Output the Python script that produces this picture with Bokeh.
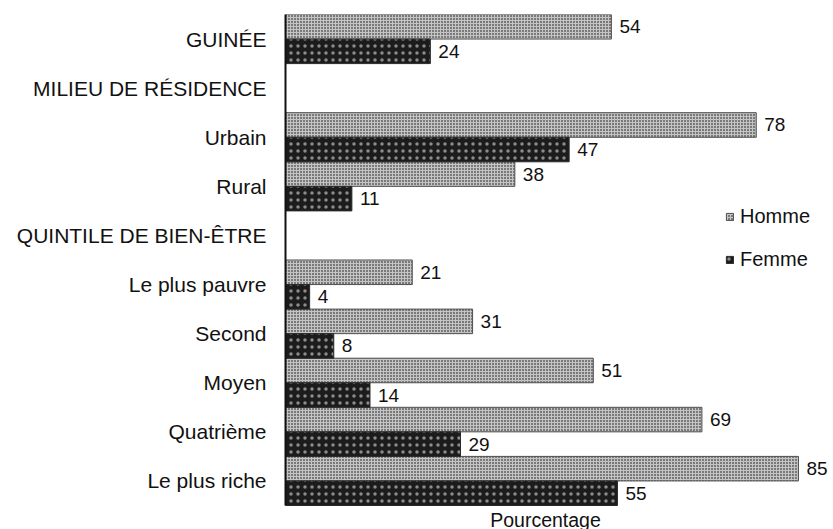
from bokeh.plotting import figure
from bokeh.models import (ColumnDataSource, Range1d, LabelSet, Label, Legend, LegendItem,
                          FixedTicker)
from bokeh.core.properties import value
from bokeh.embed import file_html
from bokeh.resources import INLINE

categories = ["GUINÉE", "MILIEU DE RÉSIDENCE", "Urbain", "Rural", "QUINTILE DE BIEN-ÊTRE",
              "Le plus pauvre", "Second", "Moyen", "Quatrième", "Le plus riche"]
homme = [54, None, 78, 38, None, 21, 31, 51, 69, 85]
femme = [24, None, 47, 11, None, 4, 8, 14, 29, 55]
series_names = ["Homme", "Femme"]
axis_title = "Pourcentage"

FONT = "Liberation Sans"
n = len(categories)
centers = [n - i - 0.5 for i in range(n)]

rows = [(c, h, f) for c, h, f in zip(centers, homme, femme) if h is not None]
src = ColumnDataSource(dict(
    yh=[r[0] + 0.25 for r in rows],
    yf=[r[0] - 0.25 for r in rows],
    homme=[r[1] for r in rows],
    femme=[r[2] for r in rows],
    homme_txt=[str(r[1]) for r in rows],
    femme_txt=[str(r[2]) for r in rows],
))

FW, FH = 548, 515
px_per_unit = 6.035
row_px = 49.1
x_end = FW / px_per_unit
y_start = n - FH / row_px

p = figure(y_range=Range1d(y_start, n), x_range=Range1d(0, x_end),
           frame_width=FW, frame_height=FH,
           min_border_left=285, min_border_right=0, min_border_top=14, min_border_bottom=0,
           output_backend="svg", toolbar_location=None)

hr = p.hbar(y="yh", right="homme", left=0, height=0.5, source=src,
            fill_color="#7a7a7a", hatch_pattern="+", hatch_color="#c4c4c4", hatch_scale=3,
            hatch_weight=1, line_color="#505050", line_width=1)
fr = p.hbar(y="yf", right="femme", left=0, height=0.5, source=src,
            fill_color="#1c1c1c", hatch_pattern="dot", hatch_color="#8c8c8c", hatch_scale=7,
            hatch_weight=1, line_color="#2a2a2a", line_width=1)

for col, ycol, txt in [("homme", "yh", "homme_txt"), ("femme", "yf", "femme_txt")]:
    p.add_layout(LabelSet(x=col, y=ycol, text=txt, source=src,
                          x_offset=8, text_baseline="middle", text_font=value(FONT),
                          text_font_size="19px", text_color="#111111"))

p.add_layout(Label(x=(545 - 285) / px_per_unit, y=n - (519 - 14) / row_px, text=axis_title,
                   text_align="center", text_baseline="middle", text_font=FONT,
                   text_font_size="19.5px", text_color="#111111"))

p.xaxis.visible = False
p.xgrid.visible = False
p.ygrid.visible = False
p.outline_line_color = None

ya = p.yaxis[0]
ya.ticker = FixedTicker(ticks=centers, minor_ticks=[])
ya.major_label_overrides = {c: lab for c, lab in zip(centers, categories)}
ya.bounds = (0, n)
ya.axis_line_color = "#111111"
ya.axis_line_width = 2
ya.major_tick_out = 0
ya.major_tick_in = 0
ya.minor_tick_out = 0
ya.minor_tick_in = 0
ya.major_label_standoff = 19
ya.major_label_text_font = FONT
ya.major_label_text_font_size = "21px"
ya.major_label_text_color = "#111111"

legend = Legend(items=[LegendItem(label=series_names[0], renderers=[hr]),
                       LegendItem(label=series_names[1], renderers=[fr])],
                location=(440, 258), padding=0, margin=0, spacing=20,
                glyph_width=9, glyph_height=9, label_standoff=6,
                label_text_font=FONT, label_text_font_size="20px",
                label_text_color="#111111", border_line_color=None,
                background_fill_alpha=0)
p.add_layout(legend)

open("out.html", "w").write(file_html(p, INLINE))
